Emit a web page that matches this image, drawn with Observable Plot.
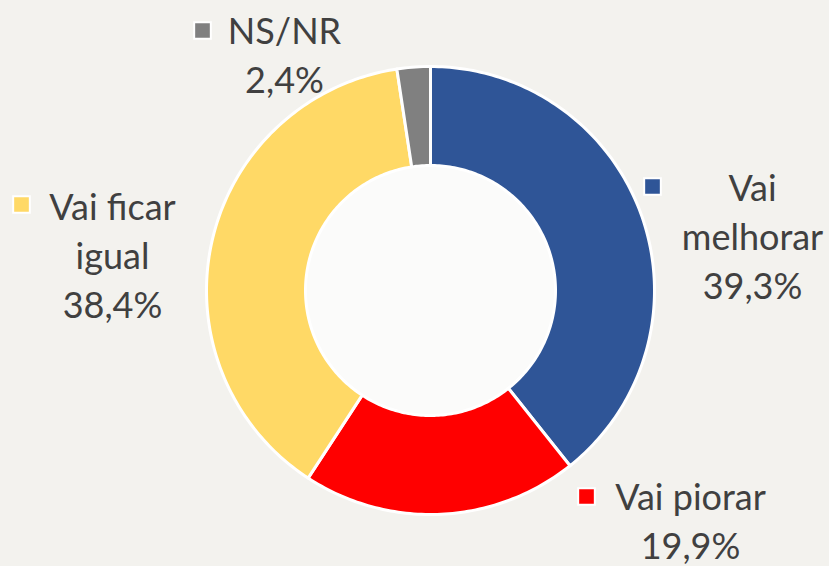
<!DOCTYPE html>
<html>
<head>
<meta charset="utf-8">
<script src="https://cdn.jsdelivr.net/npm/d3@7"></script>
<script src="https://cdn.jsdelivr.net/npm/@observablehq/plot@0.6"></script>
<style>
  html, body { margin: 0; padding: 0; background: #f3f2ee; }
  #chart { width: 829px; height: 566px; }
</style>
</head>
<body>
<div id="chart"></div>
<script>
// ---- Data ----
const categories = ["Vai melhorar", "Vai piorar", "Vai ficar igual", "NS/NR"];
const displayNames = ["Vai\nmelhorar", "Vai piorar", "Vai ficar\nigual", "NS/NR"];
const values = [39.3, 19.9, 38.4, 2.4];
const valueLabels = ["39,3%", "19,9%", "38,4%", "2,4%"];
const colors = ["#2F5597", "#FF0000", "#FFD966", "#808080"];

// ---- Layout (pixels relative to donut centre; y up) ----
const outerR = 224, innerR = 125;
const labelCenterX = [322, 260, -318, -146];   // centre of text block
const labelLastBaseline = [-8, -268, -27, 198]; // baseline of last line
const keyX = [222, 156, -409, -228];
const keyY = [104, -206, 86, 260];

// ---- Build slice polygons from the values ----
const total = d3.sum(values);
let cum = 0;
const slicePts = [];
categories.forEach((name, i) => {
  const a0 = cum / total * 2 * Math.PI;
  cum += values[i];
  const a1 = cum / total * 2 * Math.PI;
  const n = Math.max(4, Math.ceil((a1 - a0) / (Math.PI / 180)));
  for (let k = 0; k <= n; k++) {
    const a = a0 + (a1 - a0) * k / n;
    slicePts.push({name, x: outerR * Math.sin(a), y: outerR * Math.cos(a)});
  }
  for (let k = n; k >= 0; k--) {
    const a = a0 + (a1 - a0) * k / n;
    slicePts.push({name, x: innerR * Math.sin(a), y: innerR * Math.cos(a)});
  }
});

const labels = categories.map((name, i) => ({
  name,
  text: displayNames[i] + "\n" + valueLabels[i],
  x: labelCenterX[i],
  y: labelLastBaseline[i],
  kx: keyX[i],
  ky: keyY[i]
}));

const chart = Plot.plot({
  width: 829,
  height: 566,
  margin: 0,
  style: {background: "#f3f2ee", overflow: "visible"},
  x: {domain: [-430, 399], axis: null},
  y: {domain: [-276, 290], axis: null},
  color: {domain: categories, range: colors},
  marks: [
    Plot.dot([{x: 0, y: 0}], {x: "x", y: "y", r: innerR, fill: "#fbfbfa", stroke: "none"}),
    Plot.line(slicePts, {
      x: "x", y: "y", z: "name", fill: "name",
      stroke: "white", strokeWidth: 3, curve: "linear-closed"
    }),
    Plot.dot(labels, {
      x: "kx", y: "ky", symbol: "square", r: 9.4,
      fill: "name", stroke: "white", strokeWidth: 2
    }),
    Plot.text(labels, {
      x: "x", y: "y", text: "text",
      textAnchor: "middle", lineAnchor: "bottom", lineHeight: 1.36,
      fontSize: 36, fontFamily: "Lato", fill: "#404040"
    })
  ]
});
document.getElementById("chart").append(chart);
</script>
</body>
</html>
